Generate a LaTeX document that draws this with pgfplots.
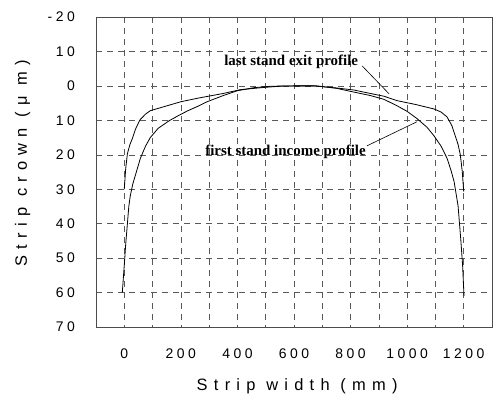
\documentclass[border=0pt]{standalone}
\usepackage{fontspec}
\setmainfont{Liberation Serif}
\newfontfamily\tickfont[LetterSpace=25]{Liberation Sans}
\newfontfamily\labfont[LetterSpace=38]{Liberation Sans}
\usepackage{pgfplots}
\pgfplotsset{compat=1.18}

\pgfplotstableread{
x y
0 30
5 24
11 19.7
20 17
28 15.4
40 12.5
55 9.9
75 8.2
92 7.2
150 5.8
200 4.6
258 3.6
350 2.2
410 1.1
500 0.4
560 0.05
600 0
670 0
750 0.6
812 1.2
870 2.2
918 3.0
965 4.3
1030 5.4
1095 6.7
1120 7.6
1141 9
1158 11.5
1170 14.5
1180 17
1188 20
1195 25
1200 30.7
}\laststand

\pgfplotstableread{
x y
-7 60
0 52
5 46
11 40
16 35
21 32
30 28.5
39 26
57 21
75 17.5
92 15
120 12.3
159 10.1
194 8.5
225 7.2
258 6
293 4.6
350 2.8
400 1.4
460 0.5
520 0.1
600 0
680 0
750 0.7
812 1.8
870 2.8
918 3.9
965 5.8
1000 7.4
1035 9.5
1070 12
1095 14.5
1120 17.5
1141 21
1155 24.5
1166 27.8
1180 34.8
1190 45
1196 52
1201 61
}\firststand

\begin{document}
\begin{tikzpicture}
\useasboundingbox (-96bp,-73bp) rectangle (406bp,327bp);
\begin{axis}[
  anchor=south west, at={(0,0)},
  scale only axis, width=396bp, height=310bp,
  xmin=-100, xmax=1300, ymin=-20, ymax=70, y dir=reverse,
  xtick={0,200,400,600,800,1000,1200},
  xticklabels={0,200,400,600,800,1000,1200},
  minor xtick={100,300,500,700,900,1100},
  ytick={-20,-10,0,10,20,30,40,50,60,70},
  yticklabels={-20,10,0,10,20,30,40,50,60,70},
  grid=both,
  major grid style={black!65, line width=0.5bp, dash pattern=on 6bp off 5bp},
  minor grid style={black!65, line width=0.5bp, dash pattern=on 6bp off 5bp},
  major tick length=0pt, minor tick length=0pt,
  axis line style={black!70, line width=0.6bp},
  tick label style={font=\fontsize{14}{14}\tickfont},
  xticklabel style={anchor=north, inner sep=0pt, yshift=-22bp},
  yticklabel style={anchor=east, inner sep=0pt, xshift=-21bp},
  xlabel={Strip width (mm)},
  ylabel={Strip crown (μ m)},
  xlabel style={at={(axis description cs:0.508,-0.1645)}, anchor=north, inner sep=0pt, font=\fontsize{16.5}{16.5}\labfont},
  ylabel style={at={(axis description cs:-0.1657,0.529)}, anchor=south, inner sep=0pt, font=\fontsize{16.5}{16.5}\labfont},
  /pgf/number format/assume math mode=true,
]
\addplot[black, line width=0.8bp] table {\laststand};
\addplot[black, line width=0.8bp] table {\firststand};
\draw[black, line width=0.6bp] (axis cs:841,-5.8) -- (axis cs:936,2.3);
\draw[black, line width=0.6bp] (axis cs:858,17.4) -- (axis cs:1035,10.4);
\node[font=\bfseries\fontsize{15}{15}\selectfont, anchor=base, inner sep=0pt] at (axis cs:590,-5.8) {last stand exit profile};
\node[font=\bfseries\fontsize{15}{15}\selectfont, anchor=base, inner sep=0pt] at (axis cs:570,20.3) {first stand income profile};
\end{axis}
\end{tikzpicture}
\end{document}
